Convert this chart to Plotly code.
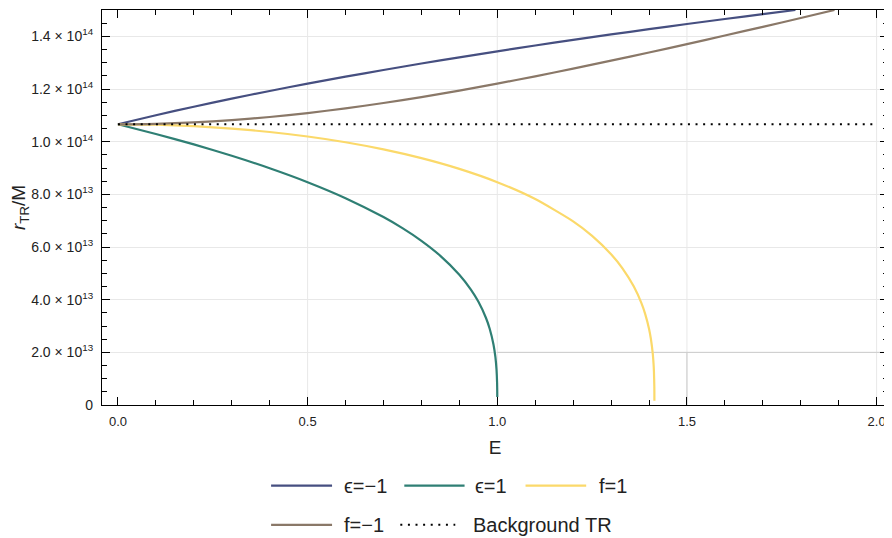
import plotly.graph_objects as go

# ---------------- data (r_TR/M in units of 1e14) ----------------
E_eps_m1 = [0, 0.1, 0.2, 0.3, 0.4, 0.5, 0.6, 0.7, 0.8, 0.9, 1.0, 1.1, 1.2, 1.3, 1.4, 1.5, 1.6, 1.7, 1.786]
r_eps_m1 = [1.066, 1.1004, 1.1328, 1.1634, 1.1925, 1.2203, 1.2468, 1.2722, 1.2967, 1.3203, 1.3431,
            1.3651, 1.3864, 1.4071, 1.4272, 1.4468, 1.4658, 1.4844, 1.5000]

E_eps_p1 = [0, 0.1, 0.2, 0.3, 0.4, 0.5, 0.6, 0.7, 0.75, 0.8, 0.85, 0.9, 0.93, 0.95, 0.97, 0.98,
            0.99, 0.995, 0.998, 0.9995, 0.9999, 1.0]
r_eps_p1 = [1.066, 1.0292, 0.9896, 0.9465, 0.8991, 0.8461, 0.7854, 0.7136, 0.6715, 0.6234, 0.5664,
            0.4948, 0.4393, 0.3927, 0.3312, 0.2894, 0.2297, 0.1823, 0.1343, 0.0846, 0.0495, 0.030]

E_f_p1 = [0, 0.1, 0.2, 0.3, 0.4, 0.5, 0.6, 0.7, 0.8, 0.9, 1.0, 1.1, 1.2, 1.25, 1.3, 1.33, 1.36,
          1.38, 1.39, 1.40, 1.405, 1.41, 1.412, 1.413, 1.414, 1.4142]
r_f_p1 = [1.066, 1.0642, 1.0588, 1.0498, 1.0368, 1.0196, 0.9978, 0.9707, 0.9374, 0.8966, 0.8461,
          0.7821, 0.6974, 0.6423, 0.5726, 0.5192, 0.4499, 0.3869, 0.3452, 0.2894, 0.2506, 0.1932,
          0.1559, 0.1276, 0.0715, 0.016]

E_f_m1 = [0, 0.1, 0.2, 0.3, 0.4, 0.5, 0.6, 0.7, 0.8, 0.9, 1.0, 1.1, 1.2, 1.3, 1.4, 1.5, 1.6, 1.7, 1.8, 1.889]
r_f_m1 = [1.066, 1.0678, 1.0731, 1.0818, 1.0937, 1.1087, 1.1265, 1.1468, 1.1694, 1.1939, 1.2203,
          1.2481, 1.2772, 1.3075, 1.3386, 1.3705, 1.4030, 1.4361, 1.4696, 1.5000]

E_bg = [0, 2.0]
r_bg = [1.066, 1.066]

SCALE = 1e14

names = ["ϵ=−1", "ϵ=1", "f=1", "f=−1", "Background TR"]
colors = ["#464f80", "#2f7f74", "#fbd96a", "#8a7868", "#000000"]

y_tickvals = [0, 2e13, 4e13, 6e13, 8e13, 1e14, 1.2e14, 1.4e14]
y_ticktext = ["0", "2.0 × 10<sup>13</sup>", "4.0 × 10<sup>13</sup>", "6.0 × 10<sup>13</sup>",
              "8.0 × 10<sup>13</sup>", "1.0 × 10<sup>14</sup>", "1.2 × 10<sup>14</sup>", "1.4 × 10<sup>14</sup>"]
x_tickvals = [0, 0.5, 1.0, 1.5, 2.0]
x_ticktext = ["0.0", "0.5", "1.0", "1.5", "2.0"]
x_grid = [0.5, 1.0, 1.5, 2.0]

FONT = "Liberation Sans, Arial, sans-serif"
DOT = "2px,5.6px"

# page offset of the figure (default body margin of the html page)
OFF = 8
# desired plot frame in page pixels
PL, PR, PT, PB = 101.5, 888.0, 9.5, 405.0
FW, FH = 892, 538

fig = go.Figure()
series = [(E_eps_m1, r_eps_m1), (E_eps_p1, r_eps_p1), (E_f_p1, r_f_p1), (E_f_m1, r_f_m1)]
for (xs, ys), nm, c in zip(series, names[:4], colors[:4]):
    fig.add_trace(go.Scatter(x=xs, y=[v * SCALE for v in ys], mode="lines", name=nm,
                             line=dict(color=c, width=2.2, shape="spline", smoothing=0.6),
                             showlegend=False))
fig.add_trace(go.Scatter(x=E_bg, y=[v * SCALE for v in r_bg], mode="lines", name=names[4],
                         line=dict(color="black", width=2, dash=DOT), showlegend=False))

# vertical grid lines (no line at E=0)
for gx in x_grid:
    fig.add_shape(type="line", xref="x", yref="paper", x0=gx, x1=gx, y0=0, y1=1,
                  line=dict(color="#e8e8e8", width=1), layer="between")
# darker rendering artefacts in reference
fig.add_shape(type="line", xref="x", yref="y", x0=1.0, x1=2.03, y0=2e13, y1=2e13,
              line=dict(color="#cccccc", width=1), layer="between")
fig.add_shape(type="line", xref="x", yref="y", x0=1.5, x1=1.5, y0=0, y1=2e13,
              line=dict(color="#cccccc", width=1), layer="between")

# ---------------- manual legend ----------------
W = PR - PL
H = PB - PT
def px(xp):
    return (xp - PL) / W
def py(yp):
    return (PB - yp) / H

legend_items = [
    (0, 270.7, 331.7, 341.7, 485.7),
    (1, 404.0, 464.3, 472.7, 485.7),
    (2, 525.3, 586.0, 596.7, 485.7),
    (3, 270.7, 331.7, 341.7, 525.0),
    (4, 400.0, 455.0, 470.7, 525.0),
]
for idx, xa, xb, xt, yy in legend_items:
    ln = dict(color=colors[idx], width=2.2)
    if idx == 4:
        ln = dict(color="black", width=2, dash=DOT)
    fig.add_shape(type="line", xref="paper", yref="paper", x0=px(xa), x1=px(xb),
                  y0=py(yy), y1=py(yy), line=ln)
    fig.add_annotation(xref="paper", yref="paper", x=px(xt), y=py(yy), text=names[idx],
                       showarrow=False, xanchor="left", yanchor="middle",
                       font=dict(family=FONT, size=20, color="#222"))

fig.update_layout(
    width=FW, height=FH,
    margin=dict(l=PL - OFF, r=FW - (PR - OFF), t=PT - OFF, b=FH - (PB - OFF), autoexpand=False),
    paper_bgcolor="white", plot_bgcolor="white",
    font=dict(family=FONT, color="#222"),
    showlegend=False,
)
fig.update_xaxes(
    range=[-0.042, 2.03], tickmode="array", tickvals=x_tickvals, ticktext=x_ticktext,
    showgrid=False, zeroline=False, automargin=False,
    showline=True, linecolor="black", linewidth=1.2, mirror="ticks",
    ticks="inside", ticklen=8, tickcolor="black", tickwidth=1.3,
    minor=dict(tickmode="linear", tick0=0, dtick=0.1, ticks="inside", ticklen=5,
               tickcolor="black", tickwidth=1.1, showgrid=False),
    tickfont=dict(size=13, family=FONT, color="#222"),
    ticklabelstandoff=4,
    title=dict(text="E", font=dict(size=19, family=FONT, color="#222"), standoff=12),
)
fig.update_yaxes(
    range=[0, 1.5e14], tickmode="array", tickvals=y_tickvals, ticktext=y_ticktext,
    showgrid=True, gridcolor="#e8e8e8", gridwidth=1, zeroline=False, automargin=False,
    showline=True, linecolor="black", linewidth=1.2, mirror="ticks",
    ticks="inside", ticklen=8, tickcolor="black", tickwidth=1.3,
    minor=dict(tickmode="linear", tick0=0, dtick=5e12, ticks="inside", ticklen=5,
               tickcolor="black", tickwidth=1.1, showgrid=False),
    tickfont=dict(size=14, family=FONT, color="#222"),
    ticklabelstandoff=5,
    title=dict(text="<i>r</i><sub>TR</sub>/M", font=dict(size=19, family=FONT, color="#222"), standoff=8),
)

fig.write_html("out.html")
